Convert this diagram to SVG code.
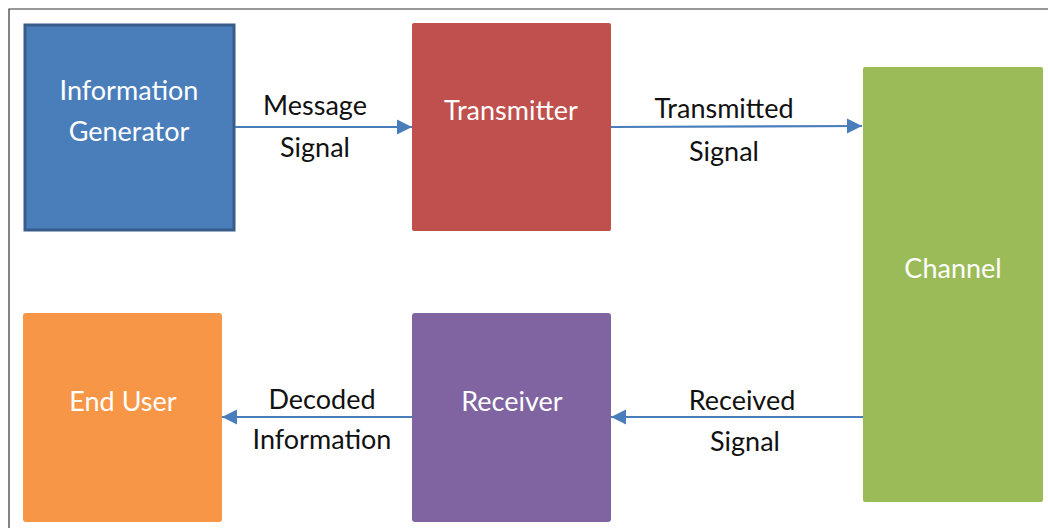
<svg xmlns="http://www.w3.org/2000/svg" width="1048" height="528" viewBox="0 0 1048 528">
<style>
.node-text{font-family:Lato,"Open Sans","Liberation Sans",sans-serif;font-size:27px;fill:#ffffff;text-anchor:middle}
.lbl{font-family:Lato,"Open Sans","Liberation Sans",sans-serif;font-size:27px;fill:#111111;text-anchor:middle}
.conn{stroke:#4a7ebb;stroke-width:2.2;fill:none;marker-end:url(#ah)}
</style>
<defs>
<marker id="ah" viewBox="0 0 10 10" refX="10" refY="5" markerWidth="7" markerHeight="7" orient="auto" markerUnits="strokeWidth">
<path d="M0,0 L10,5 L0,10 z" fill="#4a7ebb"/>
</marker>
</defs>
<rect width="1048" height="528" fill="#ffffff"/>
<path d="M9,528 V9 H1048" fill="none" stroke="#333333" stroke-width="1.2"/>
<g id="info-generator">
<rect x="25" y="25" width="209" height="205" fill="#4a7ebb" stroke="#385d8a" stroke-width="3"/>
<text class="node-text" x="129" y="100">Information</text>
<text class="node-text" x="129" y="141">Generator</text>
</g>
<g id="transmitter">
<rect x="412" y="23" width="199" height="208" rx="2" fill="#c0504d"/>
<text class="node-text" x="511" y="120">Transmitter</text>
</g>
<g id="channel">
<rect x="863" y="67" width="180" height="435" rx="2" fill="#9bbb59"/>
<text class="node-text" x="953" y="278">Channel</text>
</g>
<g id="end-user">
<rect x="23" y="313" width="199" height="209" rx="3" fill="#f79646"/>
<text class="node-text" x="123" y="411">End User</text>
</g>
<g id="receiver">
<rect x="412" y="313" width="199" height="209" rx="3" fill="#8064a2"/>
<text class="node-text" x="512" y="411">Receiver</text>
</g>
<g id="connectors">
<line class="conn" x1="235" y1="127" x2="412" y2="127"/>
<line class="conn" x1="611" y1="127" x2="862" y2="126"/>
<line class="conn" x1="863" y1="417" x2="611" y2="417"/>
<line class="conn" x1="412" y1="417" x2="222" y2="417"/>
<text class="lbl" x="315" y="115">Message</text>
<text class="lbl" x="315" y="157">Signal</text>
<text class="lbl" x="724" y="118">Transmitted</text>
<text class="lbl" x="724" y="161">Signal</text>
<text class="lbl" x="742" y="410">Received</text>
<text class="lbl" x="745" y="451">Signal</text>
<text class="lbl" x="322" y="409">Decoded</text>
<text class="lbl" x="322" y="449">Information</text>
</g>
</svg>
